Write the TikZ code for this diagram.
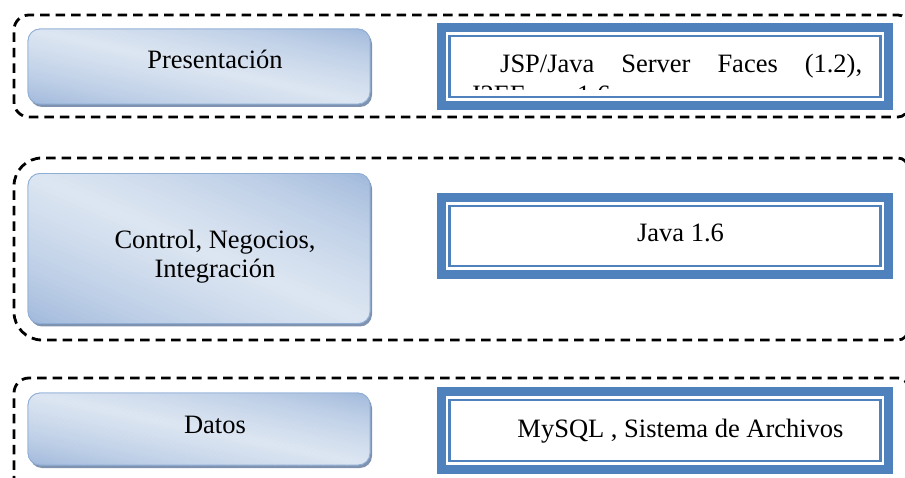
\documentclass[tikz,border=0pt]{standalone}
\usepackage{fontspec}
\setmainfont{Liberation Serif}
\usetikzlibrary{shadows}
\definecolor{officeblue}{HTML}{4F81BD}
\definecolor{gdark}{HTML}{9AB4D9}
\definecolor{glight}{HTML}{DDE6F2}
\definecolor{gborder}{HTML}{8FAED6}
\definecolor{gshadow}{HTML}{7F93B0}
\newcommand\gradbands[4]{%
  \begin{scope}
  \clip[rounded corners=12pt] (#1,#2) rectangle (#3,#4);
  \foreach \i in {0,...,59}{
    \pgfmathsetmacro\sa{-1.05+2.1*\i/60}
    \pgfmathsetmacro\sb{-1.05+2.1*(\i+1.15)/60}
    \pgfmathsetmacro\sm{-1.05+2.1*(\i+0.5)/60}
    \pgfmathsetmacro\tv{max(0.001,1-abs(\sm))}
    \pgfmathsetmacro\mixv{min(100,100*\tv^0.65)}
    \pgfmathsetmacro\xa{#1+\sa*(#3-#1)}
    \pgfmathsetmacro\xb{#1+\sb*(#3-#1)}
    \pgfmathsetmacro\xc{#1+(\sb+1)*(#3-#1)}
    \pgfmathsetmacro\xd{#1+(\sa+1)*(#3-#1)}
    \fill[glight!\mixv!gdark] (\xa,#2) -- (\xb,#2) -- (\xc,#4) -- (\xd,#4) -- cycle;
  }
  \end{scope}}
\begin{document}
\begin{tikzpicture}[x=1pt,y=-1pt,
  layer/.style={draw=black, line width=2.8pt, dash pattern=on 9.5pt off 6pt},
  lbox/.style={rounded corners=12pt, draw=gborder, line width=0.8pt, inner sep=0pt, outer sep=0pt,
    fill=gdark, drop shadow={shadow xshift=2pt, shadow yshift=-3pt, fill=gshadow, opacity=1}},
  lborder/.style={draw=gborder, line width=0.8pt, rounded corners=12pt},
  bouter/.style={fill=officeblue, draw=none, inner sep=0pt, outer sep=0pt},
  bwhite/.style={fill=white, draw=none, inner sep=0pt, outer sep=0pt},
  bline/.style={draw=officeblue, line width=2.5pt, inner sep=0pt, outer sep=0pt},
  txt/.style={font=\fontsize{26.5pt}{29pt}\selectfont, inner sep=0pt, anchor=base}
]
\useasboundingbox (0,0) rectangle (905,478);
\clip (0,0) rectangle (905,478);

% dashed layer frames
\draw[layer] (908,70) [rounded corners=10pt] -- (908,15) [rounded corners=15pt] -- (14,15) -- (14,117) [rounded corners=10pt] -- (908,117) -- cycle;
\draw[layer] (908,250) [rounded corners=10pt] -- (908,158) [rounded corners=28pt] -- (14,158) -- (14,340) [rounded corners=10pt] -- (908,340) -- cycle;
\draw[layer] (908,430) [rounded corners=10pt] -- (908,378) [rounded corners=15pt] -- (14,378) -- (14,492) [rounded corners=10pt] -- (908,492) -- cycle;

% left gradient boxes
\node[lbox, minimum width=342pt, minimum height=75pt] (presbox) at (199,66.5) {};
\gradbands{28}{29}{370}{104}
\draw[lborder] (presbox.north west) rectangle (presbox.south east);
\node[lbox, minimum width=342pt, minimum height=150pt] (ctlbox) at (199,248.5) {};
\gradbands{28}{173.5}{370}{323.5}
\draw[lborder] (ctlbox.north west) rectangle (ctlbox.south east);
\node[lbox, minimum width=342pt, minimum height=72pt] (datbox) at (199,429) {};
\gradbands{28}{393}{370}{465}
\draw[lborder] (datbox.north west) rectangle (datbox.south east);

\node[txt] (prestxt) at (215,69) {Presentación};
\node[txt] (ctltxt1) at (215,249) {Control, Negocios,};
\node[txt] (ctltxt2) at (215,278) {Integración};
\node[txt] (dattxt) at (215,433) {Datos};

% right double-bordered boxes
\node[bouter, minimum width=456pt, minimum height=87pt] (jspbox) at (665,66.5) {};
\node[bwhite, minimum width=438pt, minimum height=69pt] (jspin) at (jspbox.center) {};
\node[bline, minimum width=431pt, minimum height=61pt] (jspline) at (jspbox.center) {};

\node[bouter, minimum width=456pt, minimum height=86pt] (javabox) at (665,236) {};
\node[bwhite, minimum width=438pt, minimum height=68pt] (javain) at (javabox.center) {};
\node[bline, minimum width=431pt, minimum height=60pt] (javaline) at (javabox.center) {};

\node[bouter, minimum width=456pt, minimum height=87pt] (sqlbox) at (665,430.5) {};
\node[bwhite, minimum width=438pt, minimum height=69pt] (sqlin) at (sqlbox.center) {};
\node[bline, minimum width=431pt, minimum height=61pt] (sqlline) at (sqlbox.center) {};

\node[txt, anchor=base west] (jsptxt) at (500,73) {\makebox[362pt][s]{JSP/Java Server Faces (1.2),}};
\begin{scope}
\clip (452,38) rectangle (880,89.5);
\node[txt, anchor=base west] (jsptxt2) at (470,104) {J2EE};
\node[txt, anchor=base west] (jsptxt3) at (577,104) {1.6};
\end{scope}
\node[txt] (javatxt) at (680.5,242) {Java 1.6};
\node[txt] (sqltxt) at (680.5,437) {MySQL , Sistema de Archivos};
\end{tikzpicture}
\end{document}
